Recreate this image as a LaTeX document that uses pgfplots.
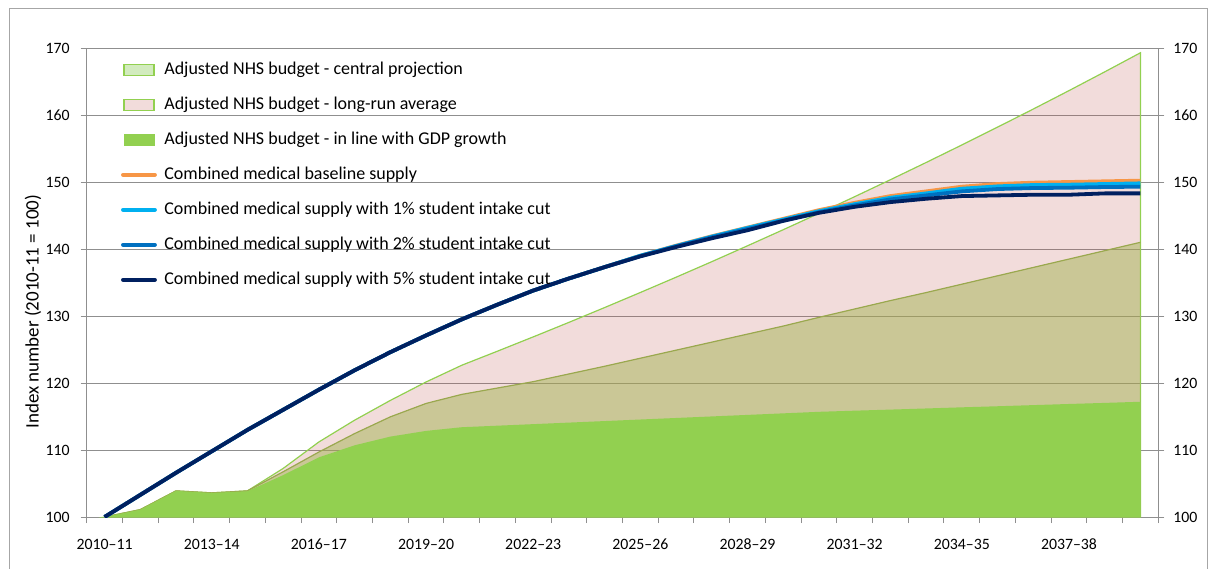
\documentclass[border=0pt]{standalone}
\usepackage{fontspec}
\setmainfont{Carlito}
\usepackage{pgfplots}
\usepackage{pgfplotstable}
\pgfplotsset{compat=1.18}
\definecolor{gridc}{HTML}{8F8F8F}
\definecolor{borderc}{HTML}{A6A6A6}
\definecolor{pinkbase}{HTML}{C0504D}
\definecolor{pinkleg}{HTML}{F2DCDB}
\definecolor{olivebase}{HTML}{A2B251}
\definecolor{oliveline}{HTML}{9AA84E}
\definecolor{lgreen}{HTML}{92D050}
\definecolor{centleg}{HTML}{D2EBBE}
\definecolor{gdpgreen}{HTML}{92D050}
\definecolor{corange}{HTML}{F79646}
\definecolor{cblue}{HTML}{00B0F0}
\definecolor{cmid}{HTML}{0070C0}
\definecolor{cnavy}{HTML}{002060}

\pgfplotstableread{
i  top     mid     gdp     base   c1      c2      c5
0  100.0   100.0   100.0   100.0  100.0   100.0   100.0
1  101.1   101.1   101.1   103.3  103.3   103.3   103.3
2  103.9   103.9   103.9   106.6  106.6   106.6   106.6
3  103.6   103.6   103.6   109.8  109.8   109.8   109.8
4  103.9   103.9   103.85  113.0  113.0   113.0   113.0
5  107.25  106.75  106.25  116.0  116.0   116.0   116.0
6  111.2   109.7   108.9   119.0  119.0   119.0   119.0
7  114.45  112.45  110.7   121.9  121.9   121.9   121.9
8  117.4   114.95  112.0   124.6  124.6   124.6   124.6
9  120.15  116.95  112.85  127.1  127.1   127.1   127.1
10 122.65  118.3   113.4   129.5  129.5   129.5   129.5
11 124.75  119.25  113.63  131.7  131.7   131.7   131.7
12 126.88  120.2   113.86  133.8  133.8   133.8   133.8
13 129.05  121.35  114.09  135.6  135.6   135.6   135.6
14 131.26  122.5   114.32  137.3  137.3   137.3   137.3
15 133.51  123.7   114.55  139.0  139.0   138.95  138.9
16 135.79  124.9   114.78  140.5  140.45  140.4   140.3
17 138.11  126.1   115.01  141.9  141.85  141.75  141.6
18 140.48  127.3   115.24  143.2  143.15  143.0   142.8
19 142.88  128.5   115.47  144.5  144.4   144.25  144.2
20 145.32  129.8   115.7   145.8  145.65  145.5   145.4
21 147.81  131.05  115.87  146.9  146.7   146.5   146.3
22 150.34  132.3   116.03  147.9  147.65  147.4   147.0
23 152.91  133.5   116.2   148.6  148.3   148.0   147.5
24 155.53  134.75  116.37  149.3  149.0   148.6   147.9
25 158.19  136.0   116.53  149.7  149.35  148.95  148.0
26 160.89  137.25  116.7   149.9  149.55  149.1   148.1
27 163.64  138.5   116.87  150.0  149.6   149.15  148.1
28 166.44  139.75  117.03  150.1  149.7   149.25  148.3
29 169.29  141.0   117.2   150.2  149.8   149.3   148.3
}\data

\begin{document}
\begin{tikzpicture}
\useasboundingbox (-43.35pt,-25.5pt) rectangle (561.65pt,258.5pt);
\draw[draw=borderc, line width=0.5pt] (-38.7pt,-30pt) rectangle (560.5pt,254.35pt);
\begin{axis}[
  at={(0pt,0pt)}, anchor=south west,
  scale only axis, width=535.8pt, height=234.5pt,
  xmin=-0.5, xmax=29.5, ymin=100, ymax=170,
  axis line style={draw=gridc, line width=0.5pt},
  tick style={draw=gridc, line width=0.5pt},
  major tick length=3pt, tick align=outside,
  xtick={-0.5,0.5,...,29.5}, xticklabels={},
  xtick pos=bottom,
  extra x ticks={0,3,...,27},
  extra x tick labels={2010–11,2013–14,2016–17,2019–20,2022–23,2025–26,2028–29,2031–32,2034–35,2037–38},
  extra x tick style={major tick length=0pt, grid=none, tick label style={yshift=-7.4pt}},
  ytick={100,110,...,170}, ytick pos=both,
  yticklabel style={xshift=-2pt},
  ymajorgrids, major grid style={draw=gridc, line width=0.5pt},
  tick label style={font=\fontsize{7.9}{9}\selectfont},
  /pgf/number format/assume math mode=true,
  ylabel={Index number (2010-11 = 100)},
  ylabel style={at={(axis description cs:-0.0501,0.4377)}, anchor=center, font=\fontsize{9.5}{11}\selectfont},
  legend cell align=left,
  legend style={at={(axis description cs:0.0317,0.9725)}, anchor=north west, draw=none, fill=none,
    inner sep=0pt, row sep=9.1pt, column sep=2.8pt, font=\fontsize{9}{11}\selectfont,
    nodes={inner sep=0pt, text height=6.5pt, text depth=1.9pt}},
  legend image code/.code={\draw[#1, line cap=round] (0pt,0pt) -- (16pt,0pt);},
]
\addplot[fill=pinkbase, fill opacity=0.2, draw=lgreen, line width=0.6pt, forget plot] table[x=i,y=top] {\data} \closedcycle;
\addplot[fill=olivebase, fill opacity=0.5, draw=none, forget plot] table[x=i,y=mid] {\data} \closedcycle;
\addplot[draw=oliveline, line width=0.6pt, forget plot] table[x=i,y=mid] {\data};
\addplot[fill=gdpgreen, draw=none, forget plot] table[x=i,y=gdp] {\data} \closedcycle;

\addlegendimage{legend image code/.code={\draw[fill=centleg, draw=lgreen, line width=0.6pt] (0.5pt,-2.75pt) rectangle (15.5pt,2.75pt); \path (17.7pt,0pt);}}
\addlegendentry{Adjusted NHS budget - central projection}
\addlegendimage{legend image code/.code={\draw[fill=pinkleg, draw=lgreen, line width=0.6pt] (0.5pt,-2.75pt) rectangle (15.5pt,2.75pt); \path (17.7pt,0pt);}}
\addlegendentry{Adjusted NHS budget - long-run average}
\addlegendimage{legend image code/.code={\fill[gdpgreen] (0.5pt,-2.75pt) rectangle (15.5pt,2.75pt); \path (17.7pt,0pt);}}
\addlegendentry{Adjusted NHS budget - in line with GDP growth}

\addplot[color=corange, line width=1.9pt, line join=round] table[x=i,y=base] {\data};
\addlegendentry{Combined medical baseline supply}
\addplot[color=cblue, line width=1.9pt, line join=round] table[x=i,y=c1] {\data};
\addlegendentry{Combined medical supply with 1\% student intake cut}
\addplot[color=cmid, line width=1.9pt, line join=round] table[x=i,y=c2] {\data};
\addlegendentry{Combined medical supply with 2\% student intake cut}
\addplot[color=cnavy, line width=1.9pt, line join=round] table[x=i,y=c5] {\data};
\addlegendentry{Combined medical supply with 5\% student intake cut}
\end{axis}
\begin{axis}[
  at={(0pt,0pt)}, anchor=south west,
  scale only axis, width=535.8pt, height=234.5pt,
  xmin=-0.5, xmax=29.5, ymin=100, ymax=170,
  axis line style={draw=none}, xtick=\empty,
  ytick={100,110,...,170}, yticklabel pos=right,
  ytick style={draw=none},
  yticklabel style={xshift=4pt},
  tick label style={font=\fontsize{7.9}{9}\selectfont},
  /pgf/number format/assume math mode=true,
]
\end{axis}
\end{tikzpicture}
\end{document}
